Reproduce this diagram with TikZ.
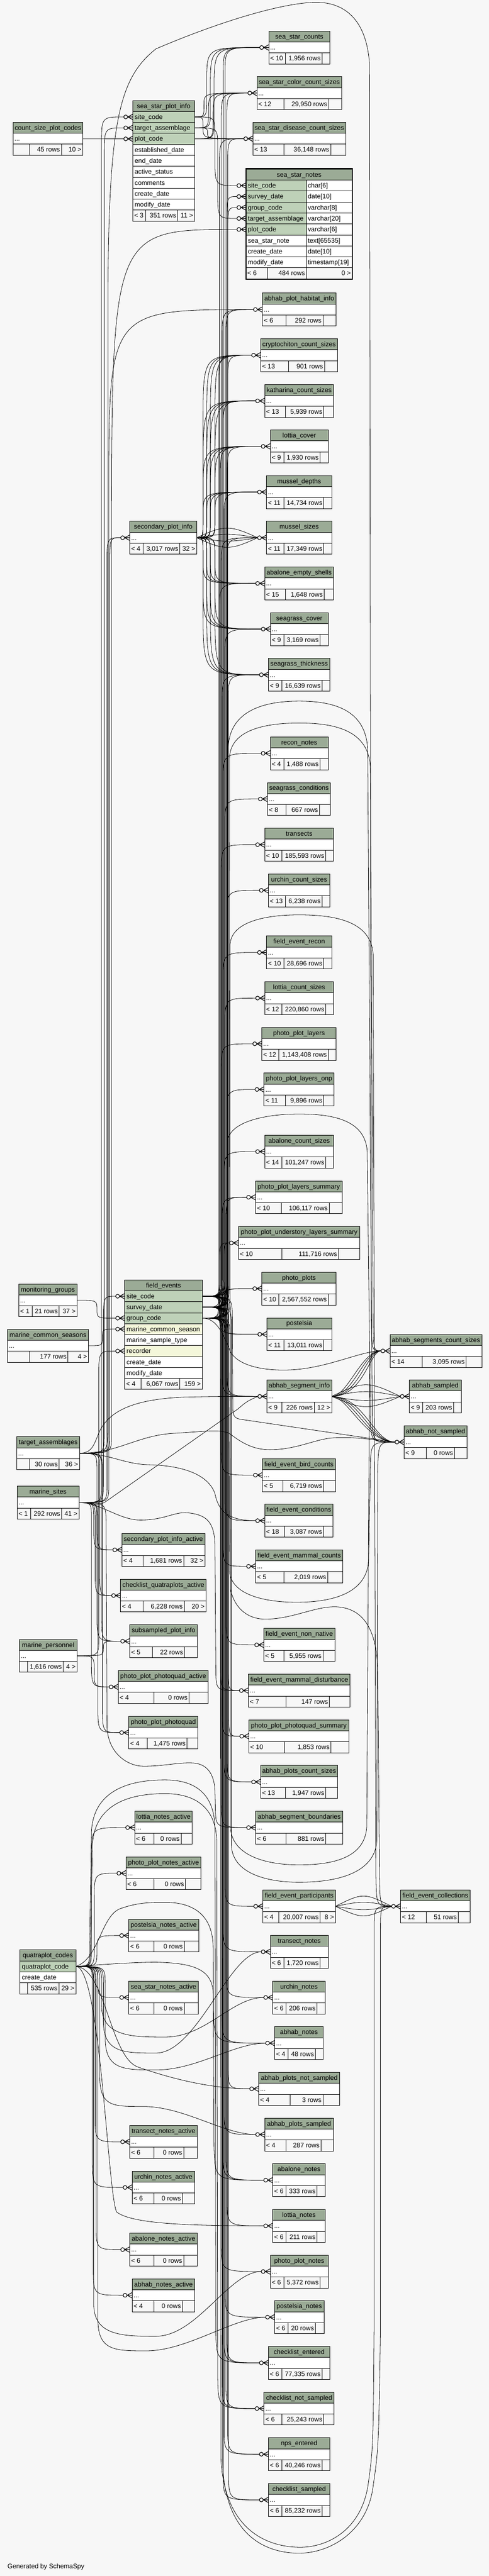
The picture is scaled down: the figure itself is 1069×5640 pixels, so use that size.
\documentclass[tikz,border=0pt]{standalone}
\usepackage{fontspec}
\setmainfont{Liberation Sans}
\usetikzlibrary{calc}
\definecolor{hdrcol}{HTML}{9BAB96}
\definecolor{keycol}{HTML}{BED1B8}
\definecolor{idxcol}{HTML}{F4F7DA}
\definecolor{bgcol}{HTML}{F7F7F7}
\pgfdeclarelayer{back}
\pgfdeclarelayer{edges}
\pgfsetlayers{back,edges,main}
\newcommand{\tfont}{\fontsize{14.3}{16}\selectfont}
\tikzset{
  hdr/.style={fill=hdrcol},
  frm/.style={draw=black, line width=0.9pt},
  ttl/.style={font=\tfont, inner sep=0pt, text height=11pt, text depth=1pt},
  rowl/.style={ttl, anchor=west},
  ftl/.style={ttl, anchor=west},
  ftr/.style={ttl, anchor=east},
  fk/.style={draw=black, line width=0.9pt},
  crw/.style={draw=black, line width=1.3pt},
}
% table: name, x1, y1, x2, title, split1, split2, {left}{mid}{right}, body rows
\newcommand{\tbl}[9]{%
  \pgfmathsetmacro\tbfy{#3+24*(#9+1)}%
  \pgfmathtruncatemacro\tbnn{#9+1}%
  \fill[hdr] (#2,#3) rectangle (#4,#3+24);
  \fill[bgcol] (#2,\tbfy) rectangle (#4,\tbfy+24);
  \foreach \kk in {1,...,\tbnn} \draw[frm] (#2,#3+24*\kk) -- (#4,#3+24*\kk);
  \draw[frm] (#2,#3) rectangle (#4,\tbfy+24);
  \draw[frm] (#6,\tbfy) -- (#6,\tbfy+24) (#7,\tbfy) -- (#7,\tbfy+24);
  \node[ttl] (#1) at ({(#2+#4)/2},#3+12) {#5};
  \coordinate (#1-w) at (#2,#3+36);
  \coordinate (#1-c) at (#2-19.7,#3+36);
  \coordinate (#1-e) at (#4,#3+36);
  \def\tbxa{#2}\def\tbxb{#4}\def\tbsb{#7}%
  \tbft#8%
}
\newcommand{\tbft}[3]{%
  \node[ftl] at (\tbxa+3,\tbfy+12) {#1};
  \node[ftr] at (\tbsb-3,\tbfy+12) {#2};
  \node[ftr] at (\tbxb-3,\tbfy+12) {#3};
}
\newcommand{\stbl}[8]{%
  \fill[white] (#2,#3+24) rectangle (#4,#3+48);
  \tbl{#1}{#2}{#3}{#4}{#5}{#6}{#7}{#8}{1}%
  \node[rowl] at (#2+3,#3+36) {...};
}
% foreign key: parent, child, x of the vertical run
\newcommand{\fk}[4][60]{%
  \draw[fk] let \p1=(#2), \p2=(#3),
    \n1={sign((\y2)-(\y1))},
    \n2={min(40,abs((\y2)-(\y1))/2)},
    \n3={min(#1,abs((\y2)-(\y1))/2)} in
    (\p1) .. controls (#4pt,\y1) .. (#4pt,\y1+\n1*\n2) -- (#4pt,\y2-\n1*\n3) .. controls (#4pt,\y2) .. (\p2);
}
% foreign key with a dip below the child
\newcommand{\fkd}[5]{%
  \draw[fk] let \p1=(#1), \p2=(#2) in
    (\p1) .. controls (#3pt,\y1) .. (#3pt,\y1-40pt) -- (#3,#4-70) .. controls (#3,#4) and (#5-70,#4) .. (#5,#4) .. controls (#5+90,#4) and (\x2-70pt,\y2) .. (\p2);
}
\newcommand{\crow}[1]{%
  \draw[crw] (#1) ++(0,-6) -- ++(-11,6) -- ++(11,6) (#1) -- ++(-11,0);
  \draw[crw,fill=white] (#1) ++(-15.5,0) circle[radius=4.2];
}

\begin{document}
\begin{tikzpicture}[x=1pt,y=-1pt]
\useasboundingbox (0,0) rectangle (1069,5640);
\begin{pgfonlayer}{back}
  \fill[bgcol] (0,0) rectangle (1069,5640);
\end{pgfonlayer}

% sea_star_plot_info
\fill[keycol] (290.4,244) rectangle (425.4,316);
\fill[white] (290.4,316) rectangle (425.4,460);
\tbl{sspi}{290.4}{220}{425.4}{sea\_star\_plot\_info}{319}{388.6}{{< 3}{351 rows}{11 >}}{9}
\foreach \rname [count=\kk] in {site\_code,target\_assemblage,plot\_code,established\_date,end\_date,active\_status,comments,create\_date,modify\_date}
  \node[rowl] at (294.4,232+24*\kk) {\rname};
\foreach \kk in {1,2,3} {
  \coordinate (sspi-\kk) at (425.4,232+24*\kk);
  \coordinate (sspi-w\kk) at (290.4,232+24*\kk);
  \coordinate (sspi-c\kk) at (270.7,232+24*\kk);
}

% sea_star_notes
\fill[keycol] (537.9,394.3) rectangle (670.1,514.3);
\fill[white] (670.1,394.3) rectangle (770.3,514.3);
\fill[white] (537.9,514.3) rectangle (770.3,586.3);
\tbl{ssn}{537.9}{370.3}{770.3}{sea\_star\_notes}{584.9}{670.1}{{< 6}{484 rows}{0 >}}{8}
\draw[frm] (670.1,394.3) -- (670.1,586.3);
\foreach \rname/\rtype [count=\kk] in {site\_code/char[6],survey\_date/date[10],group\_code/varchar[8],target\_assemblage/varchar[20],plot\_code/varchar[6],sea\_star\_note/text[65535],create\_date/date[10],modify\_date/timestamp[19]} {
  \node[rowl] at (541.9,382.3+24*\kk) {\rname};
  \node[rowl] at (673.1,382.3+24*\kk) {\rtype};
}
\draw[line width=2.5pt] (537.9,369.5) rectangle (770.3,611.5);
\foreach \kk in {1,...,5} {
  \coordinate (ssn-w\kk) at (537.9,382.3+24*\kk);
  \coordinate (ssn-c\kk) at (518.2,382.3+24*\kk);
}

% field_events
\fill[keycol] (272.7,2826) rectangle (442.4,2898);
\fill[idxcol] (272.7,2898) rectangle (442.4,2922);
\fill[white] (272.7,2922) rectangle (442.4,2946);
\fill[idxcol] (272.7,2946) rectangle (442.4,2970);
\fill[white] (272.7,2970) rectangle (442.4,3018);
\tbl{fe}{272.7}{2802}{442.4}{field\_events}{308.8}{393.3}{{< 4}{6,067 rows}{159 >}}{8}
\foreach \rname [count=\kk] in {site\_code,survey\_date,group\_code,marine\_common\_season,marine\_sample\_type,recorder,create\_date,modify\_date}
  \node[rowl] at (276.7,2814+24*\kk) {\rname};
\foreach \kk in {1,...,6} {
  \coordinate (fe-\kk) at (442.4,2814+24*\kk);
  \coordinate (fe-w\kk) at (272.7,2814+24*\kk);
  \coordinate (fe-c\kk) at (253,2814+24*\kk);
}

% quatraplot_codes
\fill[keycol] (43.6,4293.3) rectangle (165.7,4317.3);
\fill[white] (43.6,4317.3) rectangle (165.7,4341.3);
\tbl{qc}{43.6}{4269.3}{165.7}{quatraplot\_codes}{60.7}{128.8}{{}{535 rows}{29 >}}{2}
\node[rowl] at (47.6,4305.3) {quatraplot\_code};
\node[rowl] at (47.6,4329.3) {create\_date};
\coordinate (qc-1) at (165.7,4305.3);

% tables with hidden columns
\stbl{ssc}{587.6}{68}{721.2}{sea\_star\_counts}{623.7}{704.2}{{< 10}{1,956 rows}{}}
\stbl{sscc}{561.7}{167.7}{747.1}{sea\_star\_color\_count\_sizes}{620.3}{718.5}{{< 12}{29,950 rows}{}}
\stbl{ssdc}{552.9}{267.7}{756}{sea\_star\_disease\_count\_sizes}{620.3}{723.2}{{< 13}{36,148 rows}{}}
\stbl{cspc}{28.6}{267.7}{181.3}{count\_size\_plot\_codes}{64.8}{134.3}{{}{45 rows}{10 >}}
\stbl{ahpi}{574}{641.7}{734.9}{abhab\_plot\_habitat\_info}{625.8}{706.2}{{< 6}{292 rows}{}}
\stbl{cry}{569.9}{741.7}{738.3}{cryptochiton\_count\_sizes}{630.5}{709.6}{{< 13}{901 rows}{}}
\stbl{kat}{578.8}{841.7}{729.4}{katharina\_count\_sizes}{624.4}{708.2}{{< 13}{5,939 rows}{}}
\stbl{lcov}{591}{941.3}{717.8}{lottia\_cover}{620.3}{700.1}{{< 9}{1,930 rows}{}}
\stbl{mdep}{582.9}{1041.3}{725.4}{mussel\_depths}{620.3}{708.2}{{< 11}{14,734 rows}{}}
\stbl{msiz}{582.9}{1141.3}{725.4}{mussel\_sizes}{620.3}{708.2}{{< 11}{17,349 rows}{}}
\stbl{spi}{283.6}{1141.3}{430.2}{secondary\_plot\_info}{312.9}{393.3}{{< 4}{3,017 rows}{32 >}}
\stbl{aes}{578.8}{1241.3}{729.4}{abalone\_empty\_shells}{624.4}{708.9}{{< 15}{1,648 rows}{}}
\stbl{sgc}{591}{1341.3}{717.8}{seagrass\_cover}{620.3}{700.1}{{< 9}{3,169 rows}{}}
\stbl{sgt}{587}{1441.3}{721.2}{seagrass\_thickness}{616.2}{704.2}{{< 9}{16,639 rows}{}}
\stbl{rn}{591}{1613.3}{717.8}{recon\_notes}{620.3}{700.1}{{< 4}{1,488 rows}{}}
\stbl{sgcd}{584.9}{1713.3}{722.6}{seagrass\_conditions}{625.8}{698.7}{{< 8}{667 rows}{}}
\stbl{tr}{578.8}{1813.3}{729.4}{transects}{616.2}{712.3}{{< 10}{185,593 rows}{}}
\stbl{ucs}{587}{1913.3}{721.2}{urchin\_count\_sizes}{624.4}{704.2}{{< 13}{6,238 rows}{}}
\stbl{fer}{582.9}{2049.3}{725.4}{field\_event\_recon}{620.3}{708.2}{{< 10}{28,696 rows}{}}
\stbl{lcs}{578.8}{2149.3}{729.4}{lottia\_count\_sizes}{616.2}{712.3}{{< 12}{220,860 rows}{}}
\stbl{ppl}{572.6}{2249.3}{734.9}{photo\_plot\_layers}{610.1}{717.8}{{< 12}{1,143,408 rows}{}}
\stbl{pplo}{577.4}{2349.3}{730.8}{photo\_plot\_layers\_onp}{624.4}{708.2}{{< 11}{9,896 rows}{}}
\stbl{acs}{578.8}{2485.3}{729.4}{abalone\_count\_sizes}{616.2}{712.3}{{< 14}{101,247 rows}{}}
\stbl{ppls}{559}{2585.3}{747.8}{photo\_plot\_layers\_summary}{614.9}{719.8}{{< 10}{106,117 rows}{}}
\stbl{ppuls}{521.5}{2685.3}{786.7}{photo\_plot\_understory\_layers\_summary}{616.2}{740.3}{{< 10}{111,716 rows}{}}
\stbl{pp}{572.6}{2785.3}{734.9}{photo\_plots}{610.1}{717.8}{{< 10}{2,567,552 rows}{}}
\stbl{mg}{40.9}{2811}{168.4}{monitoring\_groups}{70.2}{129.5}{{< 1}{21 rows}{37 >}}
\stbl{pos}{583.5}{2885.3}{725.4}{postelsia}{620.3}{708.2}{{< 11}{13,011 rows}{}}
\stbl{mcs}{16.4}{2910.3}{193.6}{marine\_common\_seasons}{64.8}{148.6}{{}{177 rows}{4 >}}
\stbl{asc}{852.8}{2921.7}{1054}{abhab\_segments\_count\_sizes}{923}{1019.2}{{< 14}{3,095 rows}{}}
\stbl{asi}{583.5}{3021.3}{725.4}{abhab\_segment\_info}{616.2}{687.1}{{< 9}{226 rows}{12 >}}
\stbl{asmp}{895}{3021.3}{1008.9}{abhab\_sampled}{924.3}{991.8}{{< 9}{203 rows}{}}
\stbl{ans}{883.5}{3121.3}{1021.2}{abhab\_not\_sampled}{932.5}{993.9}{{< 9}{0 rows}{}}
\stbl{ta}{36.8}{3145.7}{173.8}{target\_assemblages}{64.8}{129.5}{{}{30 rows}{36 >}}
\stbl{febc}{574}{3193.7}{733.5}{field\_event\_bird\_counts}{618.3}{707.6}{{< 5}{6,719 rows}{}}
\stbl{ms}{37.5}{3253.7}{172.5}{marine\_sites}{66.8}{135}{{< 1}{292 rows}{41 >}}
\stbl{fecd}{578.8}{3293.3}{728}{field\_event\_conditions}{622.4}{707.6}{{< 18}{3,087 rows}{}}
\stbl{spia}{266.5}{3357.3}{447.9}{secondary\_plot\_info\_active}{312.9}{401.5}{{< 4}{1,681 rows}{32 >}}
\stbl{femc}{559}{3393.3}{749.9}{field\_event\_mammal\_counts}{620.3}{716.4}{{< 5}{2,019 rows}{}}
\stbl{cqa}{263.8}{3457.3}{450.6}{checklist\_quatraplots\_active}{312.9}{402.9}{{< 4}{6,228 rows}{20 >}}
\stbl{spinf}{283.6}{3557.3}{431.5}{subsampled\_plot\_info}{332.7}{403.5}{{< 5}{22 rows}{}}
\stbl{fenn}{576.7}{3565.3}{732.2}{field\_event\_non\_native}{620.3}{706.2}{{< 5}{5,955 rows}{}}
\stbl{mp}{42.3}{3589.3}{168.4}{marine\_personnel}{60}{138.4}{{}{1,616 rows}{4 >}}
\stbl{pppa}{258.4}{3657.3}{455.4}{photo\_plot\_photoquad\_active}{336.7}{413.1}{{< 4}{0 rows}{}}
\stbl{femd}{543.3}{3665.3}{765.6}{field\_event\_mammal\_disturbance}{625.8}{720.5}{{< 7}{147 rows}{}}
\stbl{ppp}{281.6}{3757.3}{432.9}{photo\_plot\_photoquad}{322.4}{409}{{< 4}{1,475 rows}{}}
\stbl{ppps}{544}{3765.3}{762.8}{photo\_plot\_photoquad\_summary}{622.4}{723.9}{{< 10}{1,853 rows}{}}
\stbl{apcs}{569.9}{3865.3}{738.3}{abhab\_plots\_count\_sizes}{624.4}{712.3}{{< 13}{1,947 rows}{}}
\stbl{lna}{294.5}{3965.3}{420.6}{lottia\_notes\_active}{336.7}{396.1}{{< 6}{0 rows}{}}
\stbl{asb}{559}{3965.3}{749.9}{abhab\_segment\_boundaries}{625.8}{712.3}{{< 6}{881 rows}{}}
\stbl{ppna}{275.4}{4065.3}{439.7}{photo\_plot\_notes\_active}{336.7}{405.6}{{< 6}{0 rows}{}}
\stbl{fep}{574.7}{4137.7}{733.5}{field\_event\_participants}{610.1}{700.1}{{< 4}{20,007 rows}{8 >}}
\stbl{fec}{876}{4137.7}{1028}{field\_event\_collections}{932.5}{1002}{{< 12}{51 rows}{}}
\stbl{pna}{281.6}{4201.7}{434.2}{postelsia\_notes\_active}{336.7}{402.9}{{< 6}{0 rows}{}}
\stbl{tn}{591}{4237.3}{717.8}{transect\_notes}{620.3}{700.1}{{< 6}{1,720 rows}{}}
\stbl{ssna}{281.6}{4337.3}{433.6}{sea\_star\_notes\_active}{336.7}{402.9}{{< 6}{0 rows}{}}
\stbl{un}{596.5}{4337.3}{711}{urchin\_notes}{625.8}{693.3}{{< 6}{206 rows}{}}
\stbl{an}{600.6}{4437.3}{707}{abhab\_notes}{629.9}{689.8}{{< 4}{48 rows}{}}
\stbl{apns}{565.8}{4537.3}{743.1}{abhab\_plots\_not\_sampled}{634}{706.2}{{< 4}{3 rows}{}}
\stbl{aps}{578.8}{4637.3}{728.7}{abhab\_plots\_sampled}{625.8}{702.1}{{< 4}{287 rows}{}}
\stbl{tna}{283.6}{4653.3}{431.5}{transect\_notes\_active}{336.7}{401.5}{{< 6}{0 rows}{}}
\stbl{abn}{596.5}{4737.3}{711}{abalone\_notes}{625.8}{693.3}{{< 6}{333 rows}{}}
\stbl{una}{289}{4753.3}{425.4}{urchin\_notes\_active}{336.7}{398.8}{{< 6}{0 rows}{}}
\stbl{ln}{596.5}{4837.3}{711}{lottia\_notes}{625.8}{693.3}{{< 6}{211 rows}{}}
\stbl{ana}{283.6}{4889.3}{431.5}{abalone\_notes\_active}{336.7}{401.5}{{< 6}{0 rows}{}}
\stbl{ppn}{591}{4937.3}{717.8}{photo\_plot\_notes}{620.3}{700.1}{{< 6}{5,372 rows}{}}
\stbl{hna}{289}{4989.3}{426}{abhab\_notes\_active}{336.7}{398.8}{{< 4}{0 rows}{}}
\stbl{psn}{600.6}{5037.3}{708.3}{postelsia\_notes}{629.9}{689.8}{{< 6}{20 rows}{}}
\stbl{ce}{587}{5137.3}{721.2}{checklist\_entered}{616.2}{704.2}{{< 6}{77,335 rows}{}}
\stbl{cns}{577.4}{5237.3}{730.8}{checklist\_not\_sampled}{616.2}{708.2}{{< 6}{25,243 rows}{}}
\stbl{npe}{587}{5337.3}{721.2}{nps\_entered}{616.2}{704.2}{{< 6}{40,246 rows}{}}
\stbl{cs}{587}{5437.3}{721.2}{checklist\_sampled}{616.2}{704.2}{{< 6}{85,232 rows}{}}

\node[rowl] (gen) at (16.4,5619) {Generated by SchemaSpy};

\begin{pgfonlayer}{edges}
% sea_star_plot_info
\fk[120]{sspi-1}{ssc-c}{452}
\fk[120]{sspi-2}{ssc-c}{460}
\fk[120]{sspi-3}{ssc-c}{468}
\fk[80]{sspi-1}{sscc-c}{446}
\fk[80]{sspi-2}{sscc-c}{456}
\fk[80]{sspi-3}{sscc-c}{466}
\fk[40]{sspi-1}{ssdc-c}{444}
\fk[40]{sspi-2}{ssdc-c}{454}
\fk[40]{sspi-3}{ssdc-c}{464}
\fk{sspi-1}{ssn-c1}{470}
\fk{sspi-2}{ssn-c4}{476}
\fk{cspc-e}{sspi-c3}{230}

% field_events, upwards
\fk{fe-1}{ssn-c2}{496}
\fk{fe-3}{ssn-c3}{498}
\foreach \tgt/\src/\bx in {ssc/1/488,ssc/2/492,sscc/1/484,sscc/2/496,ssdc/1/480,ssdc/3/498,ahpi/1/486,ahpi/2/494,cry/3/478,cry/1/498,kat/2/488,lcov/1/482,lcov/3/497,mdep/2/490,msiz/1/484,msiz/3/496,aes/2/480,sgc/1/492,sgt/3/486,sgt/2/499,rn/1/488,sgcd/2/492,tr/3/484,ucs/1/496,fer/2/488,lcs/3/492,ppl/1/484,pplo/2/496,acs/3/490,ppls/1/486,ppls/2/494,ppuls/3/480,ppuls/1/490,pp/2/494,pp/3/486}
  {\fk{fe-\src}{\tgt-c}{\bx}}
% field_events, downwards
\foreach \tgt/\src/\bx in {pos/1/480,pos/3/490,asi/2/486,asi/1/496,febc/3/484,fecd/1/492,femc/2/488,fenn/3/494,femd/1/482,femd/2/498,ppps/3/486,ppps/1/500,apcs/2/490,apcs/3/496,asb/1/484,fep/2/492,tn/3/488,un/1/494,an/2/486,apns/3/498,aps/1/490,abn/2/494,abn/3/488,ln/1/496,ppn/2/484,psn/3/492,ce/1/490,ce/2/496,cns/3/486,cns/1/494,npe/2/490,npe/3/498,cs/1/488,cs/2/500}
  {\fk{fe-\src}{\tgt-c}{\bx}}

% secondary_plot_info
\foreach \tgt in {cry,kat,lcov,mdep,aes,sgc,sgt}
  \foreach \bx in {444,452,460,470} {\fk[150]{spi-e}{\tgt-c}{\bx}}
\foreach \kk in {-28,-10,10,28} {\draw[fk] (spi-e) .. controls +(60,\kk) and +(-60,\kk) .. (msiz-c);}

% marine_sites, target_assemblages, monitoring_groups, seasons, personnel
\fk{ms-e}{sspi-c1}{222}
\fk{ta-e}{sspi-c2}{228}
\fk{ms-e}{spi-c}{234}
\fk{ta-e}{spi-c}{240}
\fk[700]{ta-e}{ssn-c5}{244}
\fk[400]{ms-e}{ahpi-c}{238}
\fk{ms-e}{fe-c1}{226}
\fk[20]{mg-e}{fe-c3}{212}
\fk[20]{mcs-e}{fe-c4}{224}
\fk{mp-e}{fe-c6}{216}
\fk{ms-e}{spia-c}{205}
\fk{ta-e}{spia-c}{212}
\fk{ms-e}{cqa-c}{208}
\fk{ta-e}{cqa-c}{218}
\fk{ms-e}{spinf-c}{212}
\fk{ta-e}{spinf-c}{222}
\fk{mp-e}{spinf-c}{226}
\fk{ms-e}{pppa-c}{200}
\fk{mp-e}{pppa-c}{206}
\fk{ta-e}{ppp-c}{224}
\fk{ms-e}{ppp-c}{214}
\draw[fk] (ta-e) .. controls (200,3181.7) and (205,3165) .. (215,3140) .. controls (235,3090) and (290,3064) .. (400,3059) .. controls (480,3057) and (520,3057.3) .. (asi-c);
\draw[fk] (ms-e) .. controls (205,3289.7) and (215,3300) .. (235,3285) -- (520,3085) .. controls (540,3068) .. (asi-c);
\draw[fk] (ta-e) .. controls (240,3182) and (270,3206) .. (327,3207) .. controls (400,3209) and (455,3228) .. (470,3270) .. controls (478,3310) and (500,3329.3) .. (fecd-c);
\draw[fk] (ms-e) .. controls (220,3290) and (260,3328) .. (307,3328) .. controls (360,3328) and (380,3310) .. (409,3312) .. controls (450,3316) and (468,3330) .. (470,3380) -- (472,3660) .. controls (473,3701.3) .. (femd-c);
\draw[fk] (ms-e) .. controls (232,3290) .. (232,3340) -- (234,3780) .. controls (236,3840) and (280,3867) .. (314,3867) .. controls (360,3867) and (390,3858) .. (423,3860) .. controls (450,3862) and (468,3880) .. (470,3920) -- (471,3960) .. controls (472,4001.3) .. (asb-c);
\draw[fk] (ta-e) .. controls (260,3181.7) and (300,3142) .. (382,3138) .. controls (450,3134) and (485,3128) .. (504,3140) .. controls (530,3160) and (555,3174) .. (590,3174) .. controls (650,3174) and (690,3150) .. (730,3148) .. controls (800,3145) and (835,3157.5) .. (ans-c);
\draw[fk] (ta-e) .. controls (236,3181.7) .. (236,3120) -- (236,640) .. controls (238,260) and (262,170) .. (341,107) .. controls (450,60) and (600,8) .. (688,5) .. controls (760,4) and (802,50) .. (808,140) -- (812,2890) .. controls (813,2957.7) .. (asc-c);

% quatraplot_codes
\foreach \tgt/\bx in {lna/200,ppna/206,pna/212,ssna/214,tna/208,una/202,ana/210,hna/204} {\fk{qc-1}{\tgt-c}{\bx}}
\fkd{qc-1}{un-c}{222}{4460}{361}
\fkd{qc-1}{tn-c}{226}{4495}{341}
\fkd{qc-1}{an-c}{230}{4532}{341}
\fkd{qc-1}{aps-c}{218}{4612}{313}
\fkd{qc-1}{ppn-c}{205}{5115}{341}
\fkd{qc-1}{psn-c}{214}{5147}{320}
\draw[fk] (qc-1) .. controls (230,4308) and (240,4500) .. (300,4525) .. controls (400,4560) and (480,4573) .. (apns-c);
\draw[fk] (qc-1) .. controls (220,4305) and (235,4800) .. (255,4843) .. controls (290,4870) and (420,4873) .. (ln-c);
\draw[fk] (qc-1) .. controls (240,4300) and (300,4296) .. (341,4296) .. controls (420,4298) and (462,4310) .. (466,4360) -- (468,4700) .. controls (470,4773.3) .. (abn-c);
\draw[fk] (qc-1) .. controls (196,4305) .. (196,4260) -- (200,4010) .. controls (205,3910) and (300,3897) .. (361,3897) .. controls (430,3897) and (468,3930) .. (470,4000) -- (472,5100) .. controls (473,5173.3) .. (ce-c);
\draw[fk] (qc-1) .. controls (198,4305) .. (198,4265) -- (202,4040) .. controls (207,3940) and (300,3927) .. (361,3927) .. controls (430,3927) and (472,3960) .. (474,4030) -- (476,5200) .. controls (477,5273.3) .. (cns-c);
\draw[fk] (qc-1) .. controls (215,4290) and (220,4200) .. (260,4180) .. controls (300,4165) and (330,4165) .. (361,4165) .. controls (420,4165) and (464,4190) .. (466,4260) -- (467,4400) .. controls (468,4473.3) .. (an-c);

% field_events to the far right column
\draw[fk] (fe-1) .. controls (497,2838) .. (497,2790) -- (499,1640) .. controls (500,1560) and (570,1535) .. (654,1535) .. controls (740,1535) and (800,1560) .. (804,1640) -- (814,3100) .. controls (815,3157.5) .. (ans-c);
\draw[fk] (fe-2) .. controls (501,2861.3) .. (501,2810) -- (502,1660) .. controls (503,1600) and (575,1583) .. (654,1583) .. controls (735,1583) and (806,1600) .. (810,1680) -- (816,2890) .. controls (817,2957.7) .. (asc-c);
\draw[fk] (fe-3) .. controls (503,2885.3) .. (503,2830) -- (503,2070) .. controls (504,2020) and (575,2003) .. (654,2003) .. controls (740,2003) and (812,2020) .. (816,2090) -- (822,4100) .. controls (823,4173.7) .. (fec-c);
\draw[fk] (fe-1) .. controls (498,2838) .. (498,2790) -- (498,2500) .. controls (499,2458) and (575,2439) .. (654,2439) .. controls (735,2439) and (798,2455) .. (803,2520) -- (810,3100) .. controls (811,3157.5) .. (ans-c);
\draw[fk] (fe-3) .. controls (475,2885.3) and (490,2925) .. (504,2960) .. controls (525,2995) and (590,3002) .. (640,2999) .. controls (720,2994) and (790,2957.7) .. (asc-c);
\draw[fk] (fe-1) .. controls (508,2838) .. (508,2890) -- (509,3085) .. controls (510,3103) and (515,3106) .. (530,3108) -- (ans-c);
\draw[fk] (fe-2) .. controls (500,2861.3) .. (500,2905) -- (502,3440) .. controls (505,3492) and (580,3508) .. (648,3508) .. controls (740,3508) and (800,3482) .. (806,3420) -- (810,3215) .. controls (811,3157.5) .. (ans-c);
\draw[fk] (fe-3) .. controls (503,2885.3) .. (503,2930) -- (504,3480) .. controls (515,3528) and (548,3545) .. (580,3545) .. controls (640,3545) and (690,3516) .. (736,3518) .. controls (790,3521) and (822,3560) .. (826,3650) -- (830,4110) .. controls (831,4173.7) .. (fec-c);
\draw[fk] (fe-1) .. controls (504,2838) .. (504,2885) -- (504,4000) .. controls (506,4062) and (580,4083) .. (654,4083) .. controls (740,4083) and (798,4062) .. (802,4000) -- (808,3020) .. controls (810,2957.7) .. (asc-c);
\draw[fk] (fe-2) .. controls (506,2861.3) .. (506,2905) -- (506,4040) .. controls (508,4100) and (580,4121) .. (654,4121) .. controls (740,4121) and (820,4100) .. (824,4030) -- (826,3230) .. controls (827,3157.5) .. (ans-c);
\draw[fk] (fe-1) .. controls (486,2838) .. (486,2885) -- (487,5400) .. controls (495,5560) and (590,5590) .. (654,5590) .. controls (720,5590) and (800,5545) .. (815,5450) .. controls (828,5360) .. (832,5100) -- (832,4230) .. controls (832,4173.7) .. (fec-c);
\draw[fk] (fe-2) .. controls (482,2861.3) .. (482,2905) -- (483,5380) .. controls (490,5545) and (590,5576) .. (654,5577) .. controls (715,5578) and (790,5540) .. (805,5440) .. controls (816,5360) .. (818,5100) -- (818,4230) .. controls (818,4173.7) .. (fec-c);

% abhab_segment_info and field_event_participants
\foreach \kk in {0,12,24,36} {\draw[fk] (asi-e) .. controls (760+\kk,3057.3) and (790+\kk/2,2957.7) .. (asc-c);}
\foreach \kk in {-34,-14,12,30} {\draw[fk] (asi-e) .. controls +(70,\kk) and +(-70,\kk) .. (asmp-c);}
\foreach \kk in {0,12,24,36} {\draw[fk] (asi-e) .. controls (760+\kk,3057.3) and (800+\kk/2,3157.5) .. (ans-c);}
\foreach \kk in {-30,-12,10,28} {\draw[fk] (fep-e) .. controls +(60,\kk) and +(-60,\kk) .. (fec-c);}
\end{pgfonlayer}

% crow's feet at the child ends
\foreach \tgt in {ssc,sscc,ssdc,ahpi,cry,kat,lcov,mdep,msiz,spi,aes,sgc,sgt,rn,sgcd,tr,ucs,fer,lcs,ppl,pplo,acs,ppls,ppuls,pp,pos,asc,asi,asmp,ans,febc,fecd,spia,femc,cqa,spinf,fenn,pppa,femd,ppp,ppps,apcs,lna,asb,ppna,fep,fec,pna,tn,ssna,un,an,apns,aps,tna,abn,una,ln,ana,ppn,hna,psn,ce,cns,npe,cs}
  {\crow{\tgt-w}}
\foreach \tgt in {sspi-w1,sspi-w2,sspi-w3,ssn-w1,ssn-w2,ssn-w3,ssn-w4,ssn-w5,fe-w1,fe-w3,fe-w4,fe-w6}
  {\crow{\tgt}}
\end{tikzpicture}
\end{document}
